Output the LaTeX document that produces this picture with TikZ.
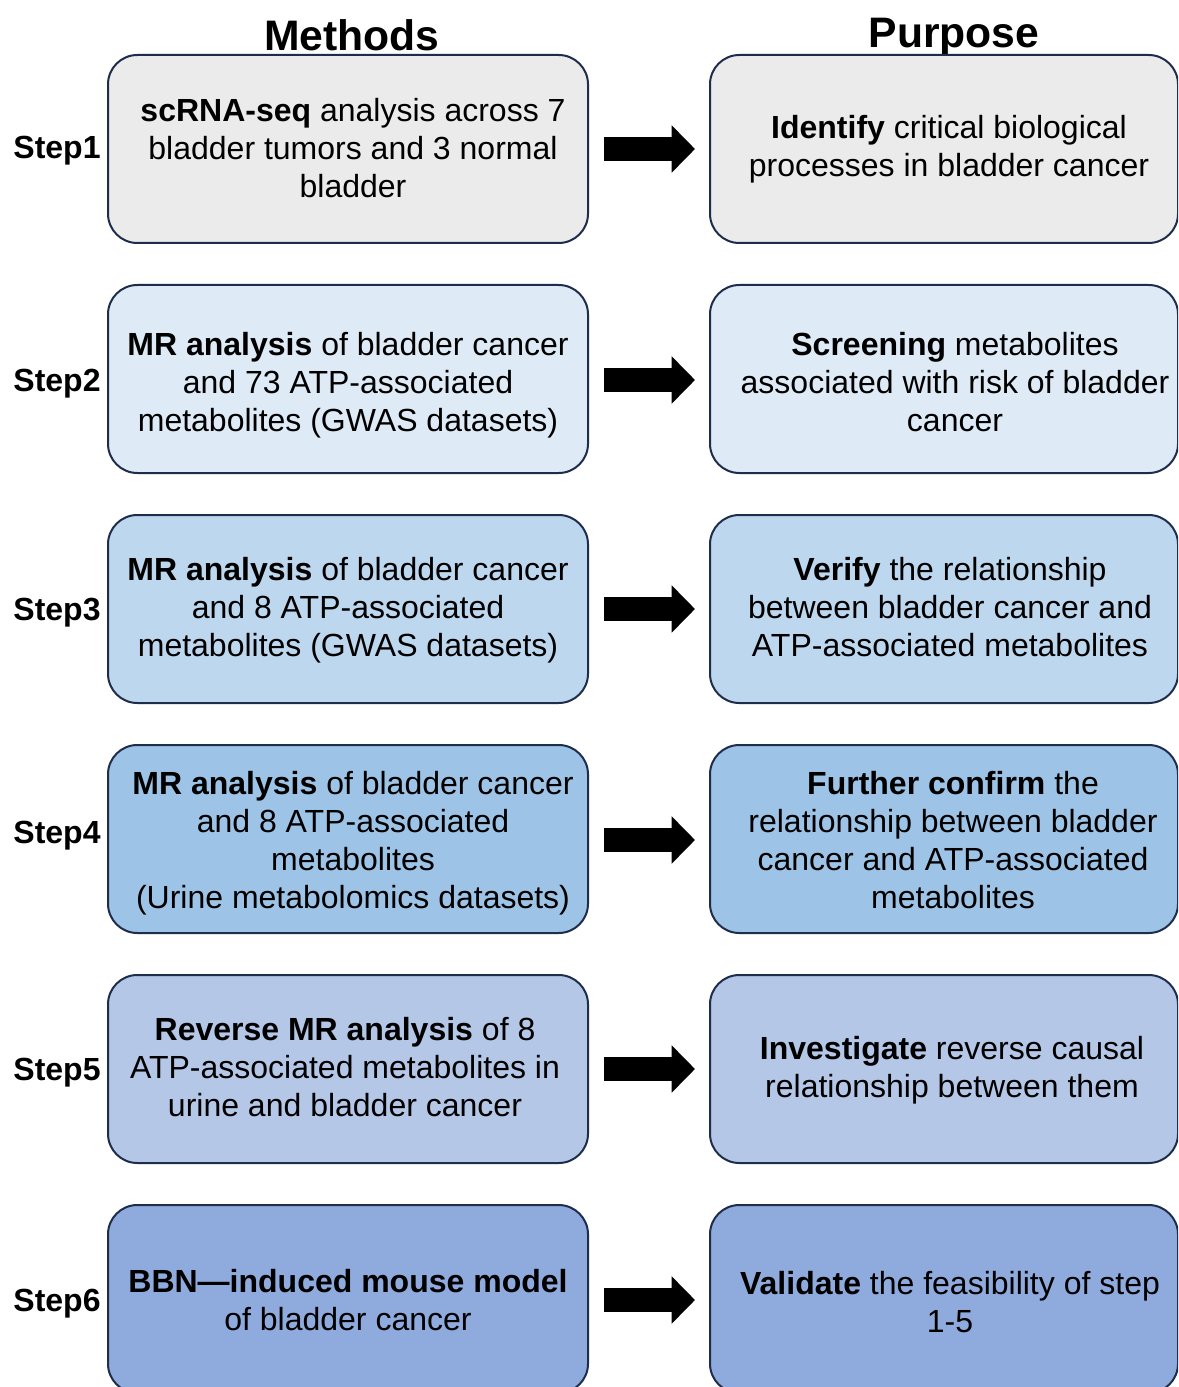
\documentclass[tikz,border=0pt]{standalone}
\usepackage{fontspec}
\setmainfont{Liberation Sans}
\usetikzlibrary{arrows.meta}
\definecolor{c1}{HTML}{EBEBEB}
\definecolor{c2}{HTML}{DEEBF7}
\definecolor{c3}{HTML}{BDD7EE}
\definecolor{c4}{HTML}{9DC3E6}
\definecolor{c5}{HTML}{B4C7E7}
\definecolor{c6}{HTML}{8FAADC}
\definecolor{edge}{HTML}{1F2D4D}
\tikzset{
  box/.style={draw=edge, line width=1.5pt, rounded corners=22pt, inner sep=0pt},
  lbox/.style={box, minimum width=360pt, minimum height=141pt},
  rbox/.style={box, minimum width=351pt, minimum height=141pt},
  txt/.style={align=center, font=\fontsize{24}{28.6}\selectfont, inner sep=0pt},
  steplbl/.style={font=\fontsize{24}{28.6}\selectfont\bfseries, inner sep=0pt},
  title/.style={font=\fontsize{32}{36}\selectfont\bfseries, inner sep=0pt},
  blockarrow/.style={line width=18pt, -{Triangle[length=17.5pt,width=34.5pt]}, shorten <=11.25pt, shorten >=10.5pt}
}
\begin{document}
\begin{tikzpicture}[x=0.75pt,y=-0.75pt]
\useasboundingbox (0,0) rectangle (1178,1387);
\clip (0,0) rectangle (1178,1387);
\fill[white] (0,0) rectangle (1178,1387);

\node[title] (tm) at (352,35) {Methods};
\node[title] (tp) at (954,37) {Purpose};

% Row 1
\node[lbox, fill=c1] (m1) at (348,149) {};
\node[rbox, fill=c1] (p1) at (944,149) {};
\node[txt] (mt1) at (353,148) {\textbf{scRNA-seq} analysis across 7\\bladder tumors and 3 normal\\bladder};
\node[txt] (pt1) at (949,149) {\textbf{Identify} critical biological\\processes in bladder cancer};
\node[steplbl] (s1) at (57,151) {Step1};
\draw[blockarrow] (m1.east |- 0,149) -- (p1.west |- 0,149);

% Row 2
\node[lbox, fill=c2] (m2) at (348,379) {};
\node[rbox, fill=c2] (p2) at (944,379) {};
\node[txt] (mt2) at (348,385) {\textbf{MR analysis} of bladder cancer\\and 73 ATP-associated\\metabolites (GWAS datasets)};
\node[txt] (pt2) at (955,382) {\textbf{Screening} metabolites\\associated with risk of bladder\\cancer};
\node[steplbl] (s2) at (57,384) {Step2};
\draw[blockarrow] (m2.east |- 0,380) -- (p2.west |- 0,380);

% Row 3
\node[lbox, fill=c3] (m3) at (348,609) {};
\node[rbox, fill=c3] (p3) at (944,609) {};
\node[txt] (mt3) at (348,610) {\textbf{MR analysis} of bladder cancer\\and 8 ATP-associated\\metabolites (GWAS datasets)};
\node[txt] (pt3) at (950,607) {\textbf{Verify} the relationship\\between bladder cancer and\\ATP-associated metabolites};
\node[steplbl] (s3) at (57,613) {Step3};
\draw[blockarrow] (m3.east |- 0,609) -- (p3.west |- 0,609);

% Row 4
\node[lbox, fill=c4] (m4) at (348,839) {};
\node[rbox, fill=c4] (p4) at (944,839) {};
\node[txt] (mt4) at (353,843) {\textbf{MR analysis} of bladder cancer\\and 8 ATP-associated\\metabolites\\(Urine metabolomics datasets)};
\node[txt] (pt4) at (953,840) {\textbf{Further confirm} the\\relationship between bladder\\cancer and ATP-associated\\metabolites};
\node[steplbl] (s4) at (57,836) {Step4};
\draw[blockarrow] (m4.east |- 0,840) -- (p4.west |- 0,840);

% Row 5
\node[lbox, fill=c5] (m5) at (348,1069) {};
\node[rbox, fill=c5] (p5) at (944,1069) {};
\node[txt] (mt5) at (345,1067) {\textbf{Reverse MR analysis} of 8\\ATP-associated metabolites in\\urine and bladder cancer};
\node[txt] (pt5) at (952,1070) {\textbf{Investigate} reverse causal\\relationship between them};
\node[steplbl] (s5) at (57,1073) {Step5};
\draw[blockarrow] (m5.east |- 0,1069) -- (p5.west |- 0,1069);

% Row 6
\node[lbox, fill=c6] (m6) at (348,1299) {};
\node[rbox, fill=c6] (p6) at (944,1299) {};
\node[txt] (mt6) at (348,1300) {\textbf{BBN---induced mouse model}\\of bladder cancer};
\node[txt] (pt6) at (950,1302) {\textbf{Validate} the feasibility of step\\1-5};
\node[steplbl] (s6) at (57,1304) {Step6};
\draw[blockarrow] (m6.east |- 0,1300) -- (p6.west |- 0,1300);
\end{tikzpicture}
\end{document}
